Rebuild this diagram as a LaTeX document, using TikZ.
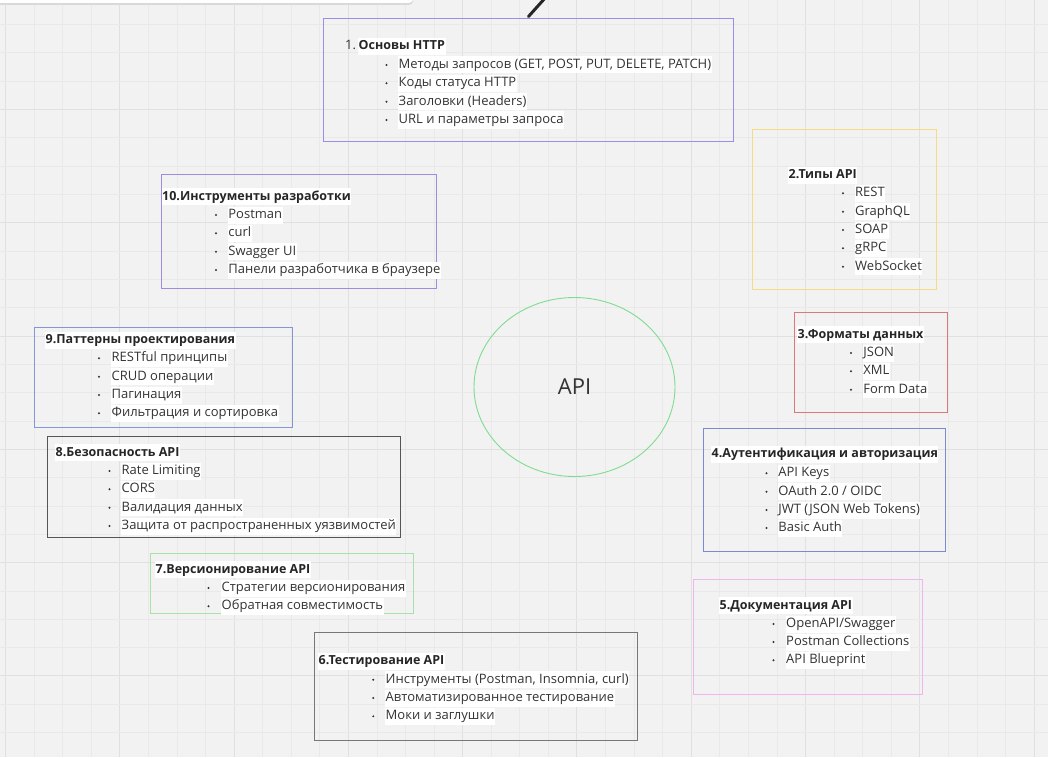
\documentclass[tikz,border=0pt]{standalone}
\usepackage{fontspec}
\setmainfont{Open Sans}
\usetikzlibrary{shapes.geometric}
\definecolor{bg}{HTML}{F2F2F2}
\definecolor{gmin}{HTML}{E9E9E9}
\definecolor{gmaj}{HTML}{E0E0E0}
\definecolor{txt}{HTML}{333333}
\definecolor{cpurple}{HTML}{9C8DE6}
\definecolor{cyellow}{HTML}{F6DB85}
\definecolor{cpurple2}{HTML}{A08BE0}
\definecolor{cblue}{HTML}{8397D8}
\definecolor{cdark}{HTML}{555555}
\definecolor{cgreen}{HTML}{A9E2A9}
\definecolor{cgray}{HTML}{777777}
\definecolor{cpink}{HTML}{F0B5EE}
\definecolor{cblue2}{HTML}{7A8BCF}
\definecolor{cred}{HTML}{D97A7A}
\definecolor{cell}{HTML}{7FDC8F}
\newcommand\myitem[5]{%
  \fill[txt] (#2,#4) circle[radius=1.1];
  \node[itm] (#1) at (#3,#4) {#5};}
\begin{document}
\begin{tikzpicture}[x=1pt,y=-1pt,
  box/.style={draw, line width=0.9pt, inner sep=0, anchor=north west},
  itm/.style={fill=white, inner xsep=0.5pt, inner ysep=1pt, text height=11pt, text depth=4pt,
    anchor=west, text=txt, font=\fontsize{13pt}{16pt}\selectfont},
  ttl/.style={itm, font=\fontsize{12.5pt}{16pt}\selectfont\bfseries, text=black!85}]
\useasboundingbox (0,0) rectangle (1048,757);
\fill[bg] (0,0) rectangle (1048,757);
% grid
\foreach \i in {0,...,36} {
  \pgfmathsetmacro\xx{5.4+28.57*\i}
  \pgfmathtruncatemacro\m{mod(\i,4)==0 ? 1 : 0}
  \ifnum\m=1 \draw[gmaj, line width=0.8pt] (\xx,0) -- (\xx,757);
  \else \draw[gmin, line width=0.5pt] (\xx,0) -- (\xx,757); \fi
}
\foreach \i in {0,...,26} {
  \pgfmathsetmacro\yy{24.3+28.33*\i}
  \pgfmathtruncatemacro\m{mod(\i+1,4)==0 ? 1 : 0}
  \ifnum\m=1 \draw[gmaj, line width=0.8pt] (0,\yy) -- (1048,\yy);
  \else \draw[gmin, line width=0.5pt] (0,\yy) -- (1048,\yy); \fi
}
% top-left panel and stroke
\fill[black!15, rounded corners=4pt] (-10,-20) rectangle (413,5);
\node[fill=white, inner sep=0, minimum width=423pt, minimum height=23pt, anchor=south west, rounded corners=4pt] (panel) at (-10,3) {};
\coordinate (s1) at (528.5,16.5);
\coordinate (s2) at (546,-3);
\draw[line width=3pt, line cap=round, black!85] (s1) -- (s2);

% central ellipse
\node[ellipse, draw=cell, line width=0.9pt, minimum width=201pt, minimum height=179pt, inner sep=0,
  font=\fontsize{22pt}{26pt}\selectfont, text=txt] (api) at (574.5,387) {API};

% 1
\node[box, draw=cpurple, minimum width=410pt, minimum height=123pt] (b1) at (323,18) {};
\node[itm, fill=none] (n1) at (344.5,46.5) {1.};
\node[ttl] (t1) at (358,46.5) {Основы HTTP};
\myitem{i11}{386.5}{398}{65}{Методы запросов (GET, POST, PUT, DELETE, PATCH)}
\myitem{i12}{386.5}{398}{83.3}{Коды статуса HTTP}
\myitem{i13}{386.5}{398}{101.7}{Заголовки (Headers)}
\myitem{i14}{386.5}{398}{120}{URL и параметры запроса}

% 2
\node[box, draw=cyellow, minimum width=184pt, minimum height=160pt] (b2) at (752,129) {};
\node[ttl] (t2) at (788,175) {2.Типы API};
\myitem{i21}{843}{854.5}{193.3}{REST}
\myitem{i22}{843}{854.5}{211.7}{GraphQL}
\myitem{i23}{843}{854.5}{230}{SOAP}
\myitem{i24}{843}{854.5}{248.3}{gRPC}
\myitem{i25}{843}{854.5}{266.7}{WebSocket}

% 10
\node[box, draw=cpurple2, minimum width=275pt, minimum height=114pt] (b10) at (161,174) {};
\node[ttl] (t10) at (161.5,196.7) {10.Инструменты разработки};
\myitem{i101}{216}{227.7}{215}{Postman}
\myitem{i102}{216}{227.7}{233.3}{curl}
\myitem{i103}{216}{227.7}{251.7}{Swagger UI}
\myitem{i104}{216}{227.7}{270}{Панели разработчика в браузере}

% 9
\node[box, draw=cblue, minimum width=258pt, minimum height=100pt] (b9) at (33.5,326.7) {};
\node[ttl] (t9) at (45,340) {9.Паттерны проектирования};
\myitem{i91}{99}{111}{358.3}{RESTful принципы}
\myitem{i92}{99}{111}{376.7}{CRUD операции}
\myitem{i93}{99}{111}{395}{Пагинация}
\myitem{i94}{99}{111}{413.3}{Фильтрация и сортировка}

% 8
\node[box, draw=cdark, minimum width=353pt, minimum height=101pt] (b8) at (46.5,436.3) {};
\node[ttl] (t8) at (55,452.5) {8.Безопасность API};
\myitem{i81}{109.5}{121}{471}{Rate Limiting}
\myitem{i82}{109.5}{121}{489.3}{CORS}
\myitem{i83}{109.5}{121}{507.7}{Валидация данных}
\myitem{i84}{109.5}{121}{526}{Защита от распространенных уязвимостей}

% 7
\node[box, draw=cgreen, minimum width=263pt, minimum height=60pt] (b7) at (150,553) {};
\node[ttl] (t7) at (155,569.7) {7.Версионирование API};
\myitem{i71}{208.5}{221}{588}{Стратегии версионирования}
\myitem{i72}{208.5}{221}{606.3}{Обратная совместимость}

% 6
\node[box, draw=cgray, minimum width=323pt, minimum height=108pt] (b6) at (313.5,632) {};
\node[ttl] (t6) at (318,661.3) {6.Тестирование API};
\myitem{i61}{373.3}{385}{679.7}{Инструменты (Postman, Insomnia, curl)}
\myitem{i62}{373.3}{385}{698}{Автоматизированное тестирование}
\myitem{i63}{373.3}{385}{716.3}{Моки и заглушки}

% 5
\node[box, draw=cpink, minimum width=229pt, minimum height=115pt] (b5) at (693,579) {};
\node[ttl] (t5) at (719,605.7) {5.Документация API};
\myitem{i51}{773.5}{785.5}{624}{OpenAPI/Swagger}
\myitem{i52}{773.5}{785.5}{642}{Postman Collections}
\myitem{i53}{773.5}{785.5}{660.3}{API Blueprint}

% 4
\node[box, draw=cblue2, minimum width=242pt, minimum height=123pt] (b4) at (703,428.3) {};
\node[ttl] (t4) at (711,454.3) {4.Аутентификация и авторизация};
\myitem{i41}{766.5}{777.7}{473.3}{API Keys}
\myitem{i42}{766.5}{777.7}{491.7}{OAuth 2.0 / OIDC}
\myitem{i43}{766.5}{777.7}{510}{JWT (JSON Web Tokens)}
\myitem{i44}{766.5}{777.7}{528}{Basic Auth}

% 3
\node[box, draw=cred, minimum width=153pt, minimum height=100pt] (b3) at (793.5,312) {};
\node[ttl] (t3) at (797,334.7) {3.Форматы данных};
\myitem{i31}{851}{862.7}{353}{JSON}
\myitem{i32}{851}{862.7}{371.3}{XML}
\myitem{i33}{851}{862.7}{389.7}{Form Data}
\end{tikzpicture}
\end{document}
